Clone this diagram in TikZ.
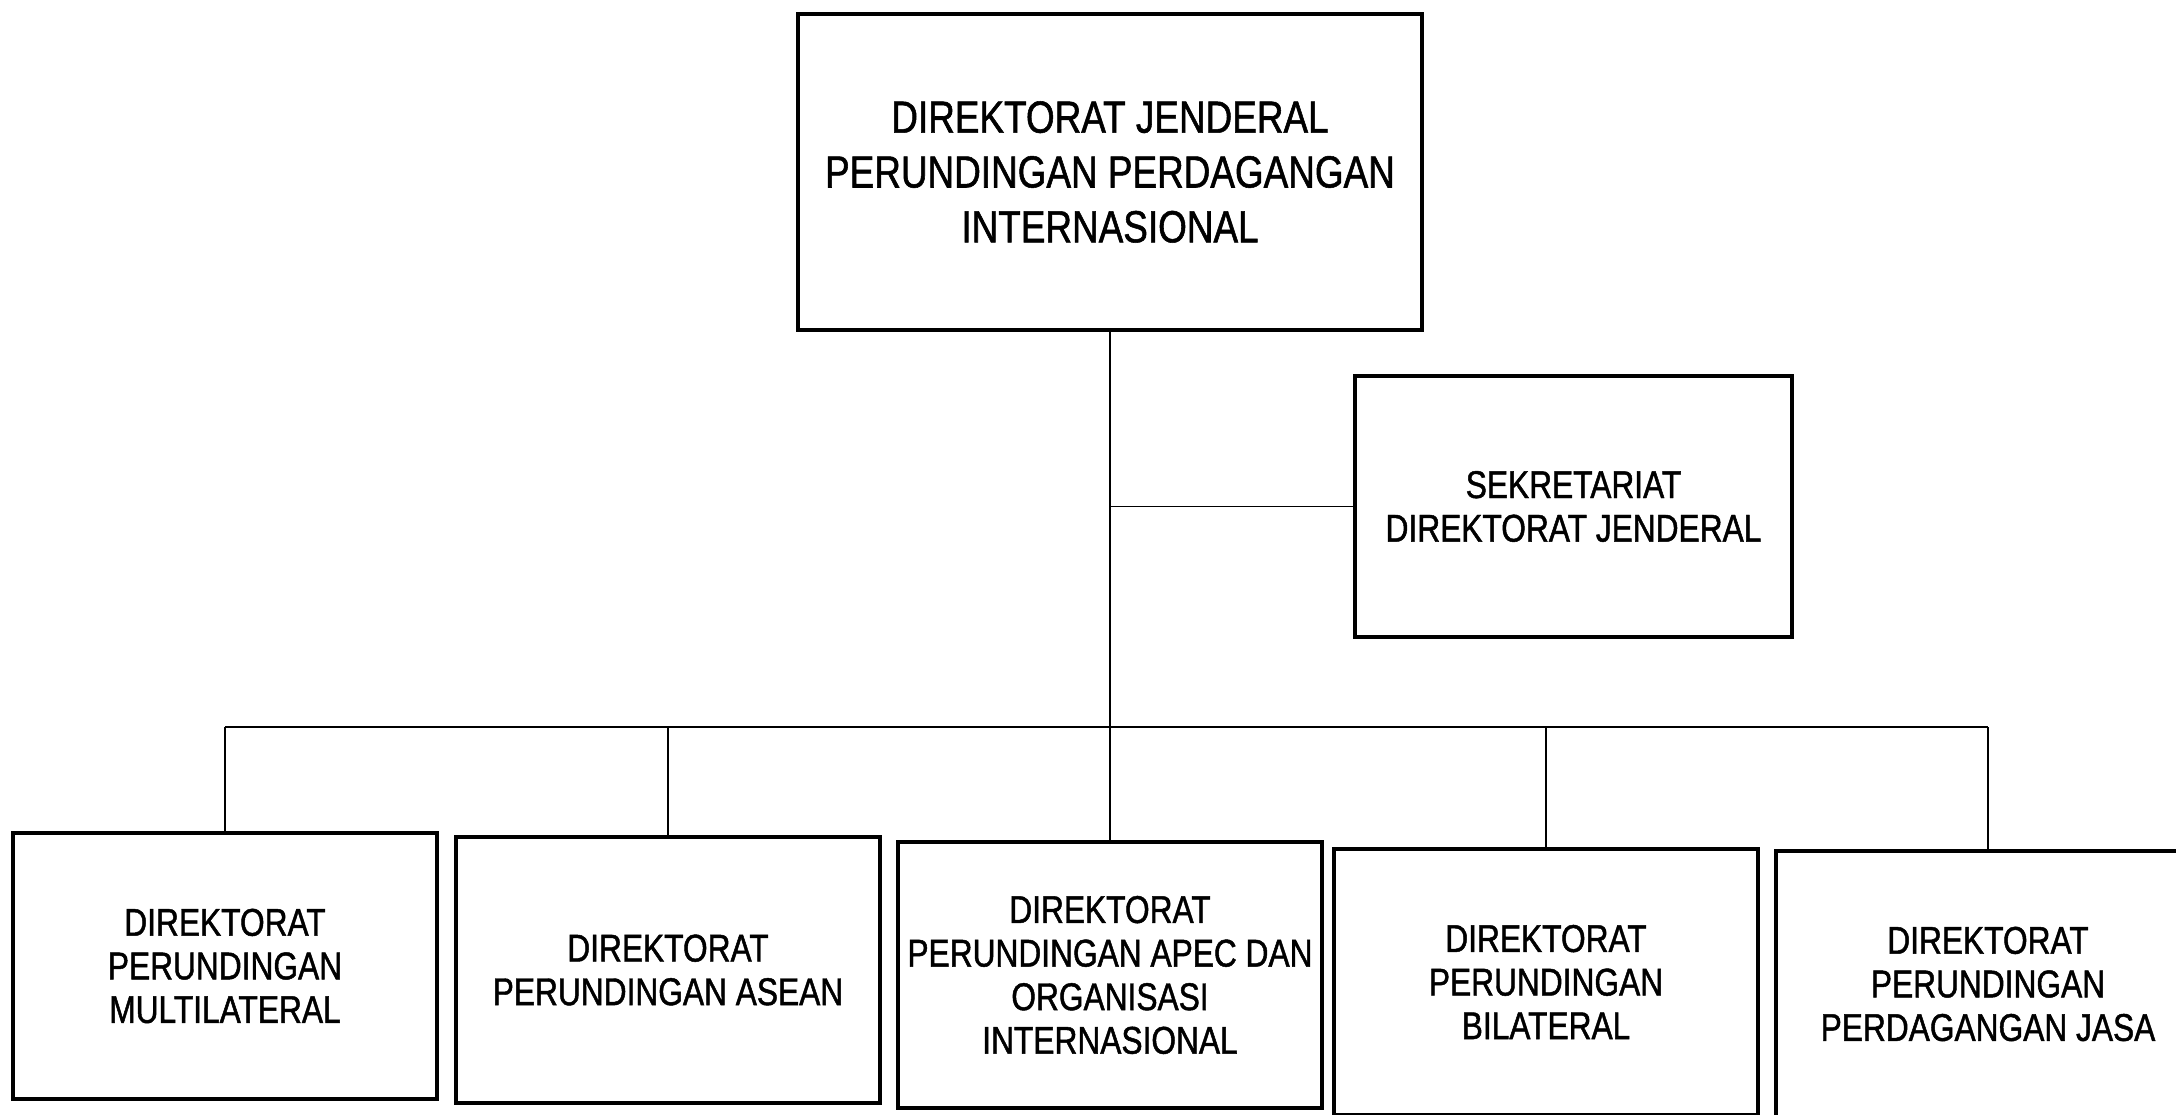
\documentclass[tikz,border=0pt]{standalone}
\usepackage{fontspec}
\setmainfont{Liberation Sans}[FakeStretch=0.82,FakeBold=1.2]
\usepackage{tikz}
\usetikzlibrary{positioning}
\tikzset{
    unidad/.style={draw, line width=1.2pt, align=center, inner sep=0pt,
        minimum width=4.24cm, minimum height=2.66cm,
        font=\fontsize{11}{12.4}\selectfont},
    jefe/.style={unidad, minimum width=6.24cm, minimum height=3.16cm,
        font=\fontsize{12.8}{15.6}\selectfont},
    enlace/.style={line width=0.5pt}
}
\begin{document}
\begin{tikzpicture}
        \path[use as bounding box, fill=white] (0,0) rectangle (21.76,-11.15);
        \clip (0,0) rectangle (21.76,-11.15);
        % Cajas superiores
        \node[jefe] (dirjen) at (11.1,-1.72) {DIREKTORAT JENDERAL\\PERUNDINGAN PERDAGANGAN\\INTERNASIONAL};
        \node[unidad, minimum width=4.37cm, minimum height=2.61cm] (sekr) at (15.735,-5.065) {SEKRETARIAT\\DIREKTORAT JENDERAL};
        % Direktorat de abajo
        \node[unidad] (multi) at (2.25,-9.66) {DIREKTORAT\\PERUNDINGAN\\MULTILATERAL};
        \node[unidad] (asean) at (6.68,-9.70) {DIREKTORAT\\PERUNDINGAN ASEAN};
        \node[unidad] (apec) at (11.1,-9.75) {DIREKTORAT\\PERUNDINGAN APEC DAN\\ORGANISASI\\INTERNASIONAL};
        \node[unidad] (bila) at (15.46,-9.82) {DIREKTORAT\\PERUNDINGAN\\BILATERAL};
        \node[unidad] (jasa) at (19.88,-9.84) {DIREKTORAT\\PERUNDINGAN\\PERDAGANGAN JASA};
        % Lineas
        \coordinate (bus) at (0,-7.27);
        \draw[enlace] (dirjen.south) -- (apec.north);
        \draw[enlace] (sekr.west) -- (sekr.west -| dirjen.south);
        \draw[enlace] (multi.north |- bus) -- (jasa.north |- bus);
        \foreach \n in {multi,asean,bila,jasa} {
            \draw[enlace] (\n.north) -- (\n.north |- bus);
        }
    \end{tikzpicture}
\end{document}
